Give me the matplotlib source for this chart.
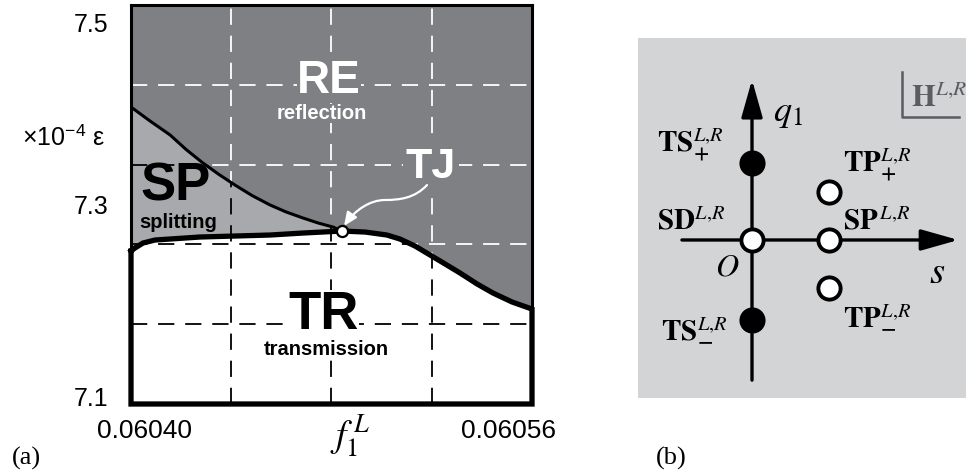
import numpy as np
import matplotlib
matplotlib.use("Agg")
import matplotlib.pyplot as plt
from matplotlib.path import Path
from matplotlib.patches import Polygon, FancyArrowPatch
from matplotlib.transforms import ScaledTranslation

plt.rcParams['font.family'] = ['Liberation Sans', 'DejaVu Sans']
plt.rcParams['mathtext.fontset'] = 'stix'

# (a) phase diagram: boundary curves
f1_upper = [0.0604000, 0.0604076, 0.0604156, 0.0604220, 0.0604287, 0.0604351,
            0.0604415, 0.0604483, 0.0604555, 0.0604619, 0.0604686, 0.0604746,
            0.0604806, 0.0604842]
eps_upper = [7.3977, 7.3837, 7.3697, 7.3551, 7.3416, 7.3301, 7.3195, 7.3090,
             7.2995, 7.2925, 7.2865, 7.2815, 7.2774, 7.2734]

f1_lower = [0.0604000, 0.0604016, 0.0604048, 0.0604096, 0.0604156, 0.0604275,
            0.0604415, 0.0604555, 0.0604686, 0.0604842, 0.0604934, 0.0605021,
            0.0605073, 0.0605133, 0.0605193, 0.0605253, 0.0605313, 0.0605381,
            0.0605444, 0.0605520, 0.0605600]
eps_lower = [7.2534, 7.2564, 7.2614, 7.2644, 7.2654, 7.2674, 7.2684, 7.2694,
             7.2714, 7.2734, 7.2724, 7.2694, 7.2654, 7.2584, 7.2494, 7.2404,
             7.2313, 7.2203, 7.2113, 7.2023, 7.1952]

tj_f1, tj_eps = 0.0604842, 7.2734
f1_range = (0.06040, 0.06056)
eps_range = (7.1, 7.5)
grid_f1 = [0.06044, 0.06048, 0.06052]
grid_eps = [7.18, 7.26, 7.34, 7.42]
yticks = [7.1, 7.3, 7.5]
xticks = [0.06040, 0.06056]
xtick_labels = ['0.06040', '0.06056']

# (b) singular points in the (s, q1) plane
pt_s = [0, 1.0, 1.0, 1.0, 0, 0]
pt_q = [0, 0, 0.62, -0.62, 1.0, -1.04]
pt_filled = [False, False, False, False, True, True]
pt_labels = [r'$\mathbf{SD}^{L{,}R}$', r'$\mathbf{SP}^{\,L{,}R}$',
             r'$\mathbf{TP}_{\mathbf{+}}^{L{,}R}$', r'$\mathbf{TP}_{\mathbf{-}}^{L{,}R}$',
             r'$\mathbf{TS}_{\mathbf{+}}^{L{,}R}$', r'$\mathbf{TS}_{\mathbf{-}}^{L{,}R}$']
lab_s = [-1.23, 1.18, 1.18, 1.18, -1.23, -1.18]
lab_q = [0.14, 0.14, 0.88, -1.10, 1.13, -1.26]

RE_GREY = '#7f8084'
SP_GREY = '#a8a9ac'
B_GREY = '#d3d4d6'

fig = plt.figure(figsize=(9.66, 4.76), dpi=100)
ax = fig.add_axes([131 / 966, 1 - 404 / 476, 401 / 966, 399 / 476])
ax.set_xlim(*f1_range)
ax.set_ylim(*eps_range)
ax.set_facecolor(RE_GREY)

f1_lo = np.array(f1_lower)
eps_lo = np.array(eps_lower)
right = f1_lo >= tj_f1

# regions
below_x = list(f1_upper) + list(f1_lo[right][1:]) + [f1_range[1], f1_range[0]]
below_y = list(eps_upper) + list(eps_lo[right][1:]) + [eps_range[0], eps_range[0]]
below = Polygon(np.column_stack([below_x, below_y]), closed=True,
                facecolor=SP_GREY, edgecolor='none', zorder=2)
ax.add_patch(below)
tr_x = list(f1_lo) + [f1_range[1], f1_range[0]]
tr_y = list(eps_lo) + [eps_range[0], eps_range[0]]
ax.add_patch(Polygon(np.column_stack([tr_x, tr_y]), closed=True,
                     facecolor='white', edgecolor='none', zorder=2.1))

# dashed grid: white in RE, black in SP and TR
dash = (0, (9, 6))
for g in grid_f1:
    ax.axvline(g, color='white', lw=1.3, ls=dash, zorder=1)
    ln = ax.axvline(g, color='black', lw=1.3, ls=dash, zorder=3)
    ln.set_clip_path(below)
for g in grid_eps:
    ax.axhline(g, color='white', lw=1.3, ls=dash, zorder=1)
    ln = ax.axhline(g, color='black', lw=1.3, ls=dash, zorder=3)
    ln.set_clip_path(below)

# boundaries
ax.plot(f1_upper, eps_upper, color='black', lw=2.2, zorder=4)
ax.plot(tr_x + [f1_range[0]], tr_y + [eps_lower[0]], color='black', lw=3.8,
        zorder=5, clip_on=False, solid_joinstyle='miter')
ax.plot([tj_f1], [tj_eps], 'o', ms=8, mfc='white', mec='black', mew=1.6, zorder=7)

# labels
ax.text(0.060479, 7.4118, 'RE', color='white', fontsize=33, fontweight='bold',
        ha='center', va='baseline', zorder=6,
        bbox=dict(facecolor=RE_GREY, edgecolor='none', pad=0))
ax.text(0.0604760, 7.3857, 'reflection', color='white', fontsize=14.5,
        fontweight='bold', ha='center', va='baseline', zorder=6,
        bbox=dict(facecolor=RE_GREY, edgecolor='none', pad=0))
ax.text(0.0604176, 7.3045, 'SP', color='black', fontsize=38, fontweight='bold',
        ha='center', va='baseline', zorder=6)
ax.text(0.0604189, 7.2764, 'splitting', color='black', fontsize=14.5,
        fontweight='bold', ha='center', va='baseline', zorder=6)
ax.text(0.0604770, 7.1752, 'TR', color='black', fontsize=38, fontweight='bold',
        ha='center', va='baseline', zorder=6,
        bbox=dict(facecolor='white', edgecolor='none', pad=0))
ax.text(0.0604780, 7.1491, 'transmission', color='black', fontsize=14.5,
        fontweight='bold', ha='center', va='baseline', zorder=6,
        bbox=dict(facecolor='white', edgecolor='none', pad=0))
ax.text(0.0605197, 7.3266, 'TJ', color='white', fontsize=31, fontweight='bold',
        ha='center', va='baseline', zorder=6,
        bbox=dict(facecolor=RE_GREY, edgecolor='none', pad=2))

arrow_path = Path([(0.0605181, 7.3195), (0.0605133, 7.3065), (0.0605073, 7.3045),
                   (0.0605013, 7.3045), (0.0604954, 7.3045), (0.0604894, 7.2945),
                   (0.0604850, 7.2785)],
                  [Path.MOVETO, Path.CURVE4, Path.CURVE4, Path.CURVE4,
                   Path.CURVE4, Path.CURVE4, Path.CURVE4])
ax.add_patch(FancyArrowPatch(path=arrow_path, arrowstyle='-|>,head_length=0.8,head_width=0.35',
                             mutation_scale=10, color='white', lw=1.6, zorder=6))

# axes styling
for sp in ax.spines.values():
    sp.set_linewidth(2.2)
ax.set_xticks(xticks, xtick_labels)
ax.set_yticks(yticks, [f'{v:.1f}' for v in yticks])
ax.tick_params(length=0)
ax.tick_params(axis='y', pad=16, labelsize=18)
ax.tick_params(axis='x', pad=12, labelsize=19)
shifts_y = [0.07, 0.0, -0.17]
for lab, dy in zip(ax.get_yticklabels(), shifts_y):
    lab.set_transform(lab.get_transform() + ScaledTranslation(0, dy, fig.dpi_scale_trans))
shifts_x = [0.13, -0.23]
for lab, dx in zip(ax.get_xticklabels(), shifts_x):
    lab.set_transform(lab.get_transform() + ScaledTranslation(dx, 0.02, fig.dpi_scale_trans))

fig.text(105 / 966, 1 - 138 / 476, r'×10$^{\mathregular{-4}}$ ε', fontsize=18,
         ha='right', va='center')
fig.text(350 / 966, 1 - 437 / 476, r'$f_{\mathit{1}}^{\,L}$', fontsize=27,
         ha='center', va='center')
fig.text(26 / 966, 1 - 458 / 476, '(a)', fontsize=19, family='Liberation Serif',
         ha='center', va='center')
fig.text(671 / 966, 1 - 458 / 476, '(b)', fontsize=19, family='Liberation Serif',
         ha='center', va='center')

# (b) schematic
axb = fig.add_axes([638 / 966, 1 - 398 / 476, 328 / 966, 360 / 476])
axb.set_xlim(-1.4805, 2.779)
axb.set_ylim(-2.052, 2.623)
axb.set_facecolor(B_GREY)
axb.set_xticks([])
axb.set_yticks([])
for sp in axb.spines.values():
    sp.set_visible(False)

arrow_kw = dict(arrowstyle='-|>,head_length=2.3,head_width=0.65', mutation_scale=10,
                lw=2.4, color='black', shrinkA=0, shrinkB=0)
axb.annotate('', xy=(0, 2.08), xytext=(0, -1.82), arrowprops=arrow_kw, zorder=2)
axb.annotate('', xy=(2.68, 0), xytext=(-0.91, 0), arrowprops=arrow_kw, zorder=2)

for s, q, filled in zip(pt_s, pt_q, pt_filled):
    axb.plot(s, q, 'o', ms=16, mew=2.8, mec='black',
             mfc='black' if filled else 'white', zorder=4)
for lab, s, q in zip(pt_labels, lab_s, lab_q):
    axb.text(s, q, lab, fontsize=21, ha='left', va='baseline', zorder=5)

axb.text(0.27, 1.66, r'$q_{\mathit{1}}$', fontsize=26, ha='left', va='center')
axb.text(-0.32, -0.36, r'$O$', fontsize=23, ha='center', va='center')
axb.text(2.40, -0.43, r'$s$', fontsize=28, ha='center', va='center')
axb.plot([1.95, 1.95, 2.69], [2.18, 1.60, 1.60], color='#5a5c5f', lw=1.8)
axb.text(2.06, 1.73, r'$\mathbf{H}^{L{,}R}$', fontsize=22, color='#5a5c5f',
         ha='left', va='baseline')

fig.savefig('out.png', dpi=100)
